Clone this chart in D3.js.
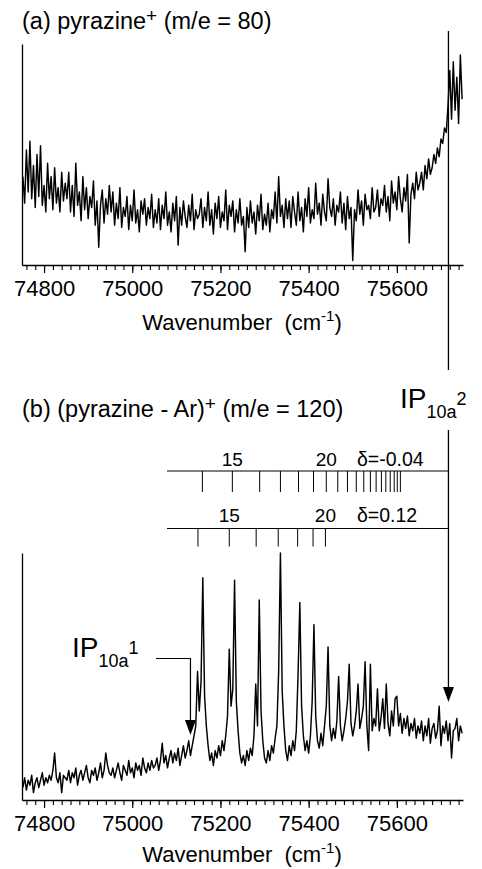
<!DOCTYPE html>
<html>
<head>
<meta charset="utf-8">
<script src="https://cdn.jsdelivr.net/npm/d3@7"></script>
<style>
  body { margin: 0; background: #fff; }
  svg text { font-family: "Liberation Sans", Arial, Helvetica, sans-serif; fill: #000; }
</style>
</head>
<body>
<svg id="chart" width="482" height="869"></svg>
<script>
// ---- data -------------------------------------------------------------
// Ion signal sampled every 4 cm^-1 starting at 74752 cm^-1 (arbitrary units, 0-100)
const wnStart = 74752;
const wnStep = 4;

// (a) pyrazine+ (m/e = 80)
const pyrazineSignal = [
  40,28,52,33,56,30,45,26,50,31,54,27,36,24,46,30,40,25,44,28,35,24,42,29,37,
  30,42,24,36,22,46,27,33,20,40,25,35,21,31,26,38,18,29,8,27,34,19,30,23,36,
  24,33,18,28,21,35,17,26,22,31,16,27,20,34,19,25,15,29,23,30,18,26,21,32,17,
  25,19,30,16,27,21,33,18,24,15,28,20,31,9,26,18,29,22,17,27,20,32,16,25,21,
  23,30,17,26,20,33,18,25,14,28,21,31,17,24,20,34,16,27,22,29,15,25,19,30,18,
  22,6,26,17,29,19,24,14,27,20,32,16,23,18,28,15,25,21,33,19,40,22,27,17,30,
  21,29,17,31,24,18,33,20,26,15,30,22,35,19,25,21,37,23,28,18,32,24,20,39,26,
  22,30,18,27,24,33,19,28,16,31,21,26,2,25,20,34,23,29,18,32,25,27,21,35,24,
  26,34,22,30,27,36,24,31,20,38,28,33,25,40,30,24,35,29,41,10,32,37,30,42,34,
  37,42,34,45,39,48,41,44,50,46,53,49,57,55,62,60,72,88,66,92,70,85,64,95,75
];

// (b) (pyrazine - Ar)+ (m/e = 120)
const complexSignal = [
  5,9,4,8,6,10,3,7,9,5,8,11,6,9,7,10,8,12,19,9,7,11,3,10,9,
  8,12,7,11,9,13,6,10,12,8,11,14,9,7,12,10,13,8,11,15,9,12,19,14,11,
  10,13,9,12,15,11,8,14,12,10,16,11,13,9,15,12,14,10,17,13,11,15,12,16,13,
  14,17,12,16,23,15,18,13,17,20,15,19,16,21,14,18,22,17,20,24,18,22,26,30,52,
  36,48,90,42,30,22,16,19,14,20,17,22,18,24,20,26,34,61,38,45,89,40,28,19,15,
  18,14,20,16,21,18,26,47,30,81,36,24,17,15,20,16,22,19,25,30,52,100,44,30,20,
  16,22,18,24,20,28,51,80,38,26,20,24,19,26,40,71,34,24,21,27,22,30,38,62,30,
  24,29,25,32,50,30,24,28,33,40,55,31,26,30,36,47,29,33,38,56,30,20,55,28,33,
  30,45,28,33,41,29,47,31,26,36,30,41,42,30,35,27,33,29,34,26,31,28,33,25,30,
  27,32,24,30,26,33,23,29,31,25,28,38,22,30,27,32,24,31,17,28,29,33,24,30,27
];

// Axis ticks (cm^-1)
const majorTicks = [74800, 75000, 75200, 75400, 75600];
const minorTickStart = 74760, minorTickEnd = 75740, minorTickStep = 20;

// Rydberg series converging to IP(10a^2): positions (cm^-1) for n = 14 ...
const seriesNegN = [14,15,16,17,18,19,20,21,22,23,24,25,26,27,28,29,30,31,32];
const seriesNegPos = [75159,75227,75289,75336,75377,75411,75440,75466,75488,75508,
                      75525,75540,75553,75565,75575,75585,75594,75601,75608];
const seriesPosN = [14,15,16,17,18,19,20];
const seriesPosPos = [75149,75220,75281,75331,75375,75410,75438];
const seriesLabels = ["\u03b4=-0.04", "\u03b4=0.12"];
const labelledN = [15, 20];

// Ionization thresholds (cm^-1): IP(10a^1), IP(10a^2)
const ionThresholds = [75132, 75717];

// ---- scales -----------------------------------------------------------
const svg = d3.select("#chart");
const x = d3.scaleLinear().domain([74750, 75750]).range([22, 463]);
const yA = d3.scaleLinear().domain([0, 100]).range([265, 44]);
const yB = d3.scaleLinear().domain([0, 100]).range([800, 553]);
const FONT = '"Liberation Sans", Arial, Helvetica, sans-serif';

const minorTicks = d3.range(minorTickStart, minorTickEnd + 1, minorTickStep);

function drawXAxis(yPos) {
  const gMinor = svg.append("g").attr("transform", `translate(0,${yPos})`)
    .call(d3.axisBottom(x).tickValues(minorTicks).tickSize(5).tickSizeOuter(0).tickFormat(""));
  gMinor.select(".domain").attr("stroke-width", 1.3);
  gMinor.selectAll(".tick line").attr("stroke-width", 1.1);
  const gMajor = svg.append("g").attr("transform", `translate(0,${yPos})`)
    .call(d3.axisBottom(x).tickValues(majorTicks).tickSize(8).tickPadding(7).tickFormat(d3.format("d")));
  gMajor.select(".domain").remove();
  gMajor.attr("font-size", 22).attr("font-family", FONT);
  gMajor.selectAll(".tick line").attr("stroke-width", 1.2);
  gMajor.selectAll(".tick text").attr("fill", "#000");
}

function drawYAxis(scale) {
  const g = svg.append("g").attr("transform", `translate(${x.range()[0]},0)`)
    .call(d3.axisLeft(scale).tickValues([]).tickSizeOuter(0));
  g.select(".domain").attr("stroke-width", 1.3);
}

function drawXLabel(yBase) {
  const t = svg.append("text").attr("x", 242).attr("y", yBase)
    .attr("text-anchor", "middle").attr("font-size", 22).style("white-space", "pre");
  t.append("tspan").text("Wavenumber  (cm");
  t.append("tspan").attr("font-size", 15).attr("dy", -9).text("-1");
  t.append("tspan").attr("dy", 9).text(")");
}

function drawTrace(values, yScale) {
  const line = d3.line()
    .x((d, i) => x(wnStart + i * wnStep))
    .y(d => yScale(d));
  svg.append("path").datum(values)
    .attr("d", line).attr("fill", "none")
    .attr("stroke", "#000").attr("stroke-width", 1.45)
    .attr("stroke-linejoin", "round");
}

function drawTitle(yBase, pre, post) {
  const t = svg.append("text").attr("x", 22).attr("y", yBase).attr("font-size", 23.5)
    .style("white-space", "pre");
  t.append("tspan").text(pre);
  t.append("tspan").attr("font-size", 19).attr("dy", -7).text("+");
  t.append("tspan").attr("dy", 7).text(post);
}

function ipLabel(xPos, yBase, level) {
  const t = svg.append("text").attr("x", xPos).attr("y", yBase).attr("font-size", 28);
  t.append("tspan").text("IP");
  t.append("tspan").attr("font-size", 18).attr("dy", 10).text("10a");
  t.append("tspan").attr("font-size", 18).attr("dy", -13).text(level);
}

function arrowHead(xTip, yTip) {
  svg.append("path")
    .attr("d", `M${xTip},${yTip}L${xTip - 5.5},${yTip - 15}L${xTip + 5.5},${yTip - 15}Z`)
    .attr("fill", "#000");
}

// ---- panel (a) ----------------------------------------------------------
drawTitle(29, "(a) pyrazine", " (m/e = 80)");
drawYAxis(yA);
drawTrace(pyrazineSignal, yA);
drawXAxis(265);
drawXLabel(330);

// ---- panel (b) ----------------------------------------------------------
drawTitle(417, "(b) (pyrazine - Ar)", " (m/e = 120)");
drawYAxis(yB);
drawTrace(complexSignal, yB);
drawXAxis(800);
drawXLabel(862);

// Rydberg combs
function drawComb(positions, nums, yLine, tickLen, label, yText) {
  const xIP = x(ionThresholds[1]);
  svg.append("line").attr("x1", 167).attr("x2", xIP).attr("y1", yLine).attr("y2", yLine)
    .attr("stroke", "#000").attr("stroke-width", 1.1);
  svg.selectAll(null).data(positions).enter().append("line")
    .attr("x1", d => x(d)).attr("x2", d => x(d))
    .attr("y1", yLine).attr("y2", yLine + tickLen)
    .attr("stroke", "#000").attr("stroke-width", 1);
  labelledN.forEach(n => {
    const k = nums.indexOf(n);
    svg.append("text").attr("x", x(positions[k])).attr("y", yText)
      .attr("text-anchor", "middle").attr("font-size", 19).text(String(n));
  });
  svg.append("text").attr("x", 357).attr("y", yText).attr("font-size", 19.5).text(label);
}
drawComb(seriesNegPos, seriesNegN, 471, 21, seriesLabels[0], 466);
drawComb(seriesPosPos, seriesPosN, 528.5, 18, seriesLabels[1], 522);

// IP(10a^2): vertical marker through both panels
const xIP2 = x(ionThresholds[1]);
svg.append("line").attr("x1", xIP2).attr("x2", xIP2).attr("y1", 31).attr("y2", 370)
  .attr("stroke", "#000").attr("stroke-width", 1.3);
svg.append("line").attr("x1", xIP2).attr("x2", xIP2).attr("y1", 430).attr("y2", 690)
  .attr("stroke", "#000").attr("stroke-width", 1.3);
arrowHead(xIP2, 702);
ipLabel(400, 408, "2");

// IP(10a^1): leader with arrow
const xIP1 = x(ionThresholds[0]);
svg.append("path").attr("d", `M156,658.5H${xIP1}V722`)
  .attr("fill", "none").attr("stroke", "#000").attr("stroke-width", 1.2);
arrowHead(xIP1, 735);
ipLabel(72, 657, "1");
</script>
</body>
</html>
